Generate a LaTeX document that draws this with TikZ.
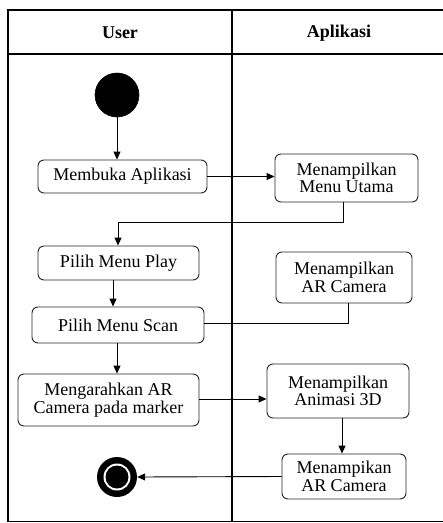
\documentclass[tikz,border=0pt]{standalone}
\usepackage{fontspec}
\setmainfont{Liberation Serif}
\usetikzlibrary{arrows.meta}
\pgfdeclareverticalshading{startball}{100bp}{color(0bp)=(gray!70); color(12bp)=(black!90); color(30bp)=(black); color(80bp)=(black); color(92bp)=(black!80); color(100bp)=(gray!60)}
\begin{document}
\begin{tikzpicture}[x=1pt,y=-1pt,
  act/.style={draw=black!85,line width=0.9pt,rounded corners=6pt,align=center,inner sep=0pt,
    font=\fontsize{18}{17.5}\selectfont},
  frame/.style={line width=1.3pt},
  flow/.style={line width=0.9pt,-{Triangle[length=8pt,width=7pt]}},
  plain/.style={line width=0.9pt},
  hdr/.style={font=\fontsize{18}{18}\selectfont\bfseries}]
\useasboundingbox (0,0) rectangle (443,523);
% swimlane frame
\draw[frame] (443,10) -- (8,10) -- (8,521.5) -- (443,521.5);
\draw[frame] (8,54) -- (443,54);
\draw[frame] (232,10) -- (232,521.5);
\node[hdr] (huser) at (120,33) {User};
\node[hdr] (happ) at (339,33) {Aplikasi};
% start / end
\node[circle,minimum size=44pt,inner sep=0pt,draw=black,line width=0.6pt,shading=startball] (start) at (117,95) {};
\node[circle,minimum size=40pt,inner sep=0pt,fill=black] (end) at (117,477) {};
\fill[white] (117,477) circle (13.5);
\fill[black] (117,477) circle (11.5);
% activities
\node[act,minimum width=169pt,minimum height=33pt] (memb) at (122.5,176.5) {Membuka Aplikasi};
\node[act,minimum width=143pt,minimum height=48pt] (menu) at (346.5,178) {Menampilkan\\Menu Utama};
\node[act,minimum width=161pt,minimum height=34pt] (play) at (118.5,263) {Pilih Menu Play};
\node[act,minimum width=172pt,minimum height=36pt] (scan) at (118,325) {Pilih Menu Scan};
\node[act,minimum width=136pt,minimum height=51pt] (arc1) at (344,277.5) {Menampilkan\\AR Camera};
\node[act,minimum width=181pt,minimum height=52pt] (meng) at (108.5,400) {Mengarahkan AR\\Camera pada marker};
\node[act,minimum width=142pt,minimum height=54pt] (anim) at (338,391) {Menampilkan\\Animasi 3D};
\node[act,minimum width=124pt,minimum height=45pt] (arc2) at (344,476.5) {Menampikan\\AR Camera};
% connectors
\draw[flow] (start) -- (start |- memb.north);
\draw[flow] (memb.east) -- (memb.east -| menu.west);
\draw[flow] ([xshift=-3.5pt]menu.south) |- (118,222) -- (118,222 |- play.north);
\draw[flow] ([xshift=-5.5pt]play.south) -- ([xshift=-5.5pt]play.south |- scan.north);
\draw[plain] ([yshift=2pt]scan.east) -| ([xshift=4pt]arc1.south);
\draw[flow] ([xshift=-1pt]scan.south) -- ([xshift=-1pt]scan.south |- meng.north);
\draw[flow] ([yshift=1pt]meng.east) -- ([yshift=1pt]meng.east -| anim.west);
\draw[flow] ([xshift=4pt]anim.south) -- ([xshift=4pt]anim.south |- arc2.north);
\draw[flow] (arc2.west) -- (end.east);
\end{tikzpicture}
\end{document}
